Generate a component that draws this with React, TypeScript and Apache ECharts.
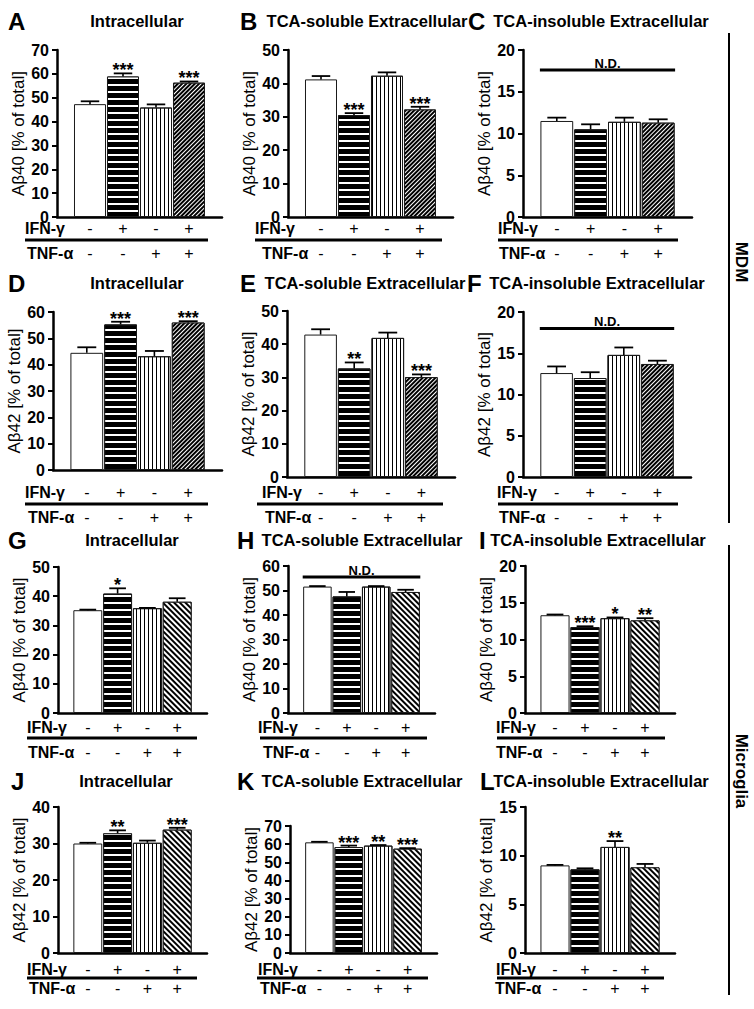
import React, { useEffect, useRef } from 'react';
import * as echarts from 'echarts';

const FF = '"Liberation Sans", Arial, Helvetica, sans-serif';

// ---- categories / tick labels ----
const IFN_GAMMA = ['-', '+', '-', '+'];
const TNF_ALPHA = ['-', '-', '+', '+'];
const PANEL_LETTERS = ['A', 'B', 'C', 'D', 'E', 'F', 'G', 'H', 'I', 'J', 'K', 'L'];
const COLUMN_TITLES = ['Intracellular', 'TCA-soluble Extracellular', 'TCA-insoluble Extracellular'];
const Y_NAMES = ['Aβ40 [% of total]', 'Aβ42 [% of total]', 'Aβ40 [% of total]', 'Aβ42 [% of total]'];
const Y_MAX = [70, 50, 20, 60, 50, 20, 50, 60, 20, 40, 70, 15];
const Y_STEP = [10, 10, 5, 10, 10, 5, 10, 10, 5, 10, 10, 5];

// ---- series values (mean, SEM, significance) ----
const MEAN_A = [47.3, 58.9, 45.9, 56.3];
const SEM_A = [1.2, 1.3, 1.3, 0.5];
const SIG_A = ['', '***', '', '***'];
const MEAN_B = [41.2, 30.5, 42.3, 32.2];
const SEM_B = [1.0, 0.6, 1.0, 0.8];
const SIG_B = ['', '***', '', '***'];
const MEAN_C = [11.5, 10.5, 11.4, 11.3];
const SEM_C = [0.4, 0.6, 0.5, 0.4];
const SIG_C = ['', '', '', ''];
const MEAN_D = [44.5, 55.3, 43.2, 56.0];
const SEM_D = [2.1, 1.0, 2.0, 0.5];
const SIG_D = ['', '***', '', '***'];
const MEAN_E = [42.9, 32.7, 41.9, 30.1];
const SEM_E = [1.6, 1.8, 1.6, 0.8];
const SIG_E = ['', '**', '', '***'];
const MEAN_F = [12.6, 12.0, 14.8, 13.7];
const SEM_F = [0.8, 0.7, 0.9, 0.4];
const SIG_F = ['', '', '', ''];
const MEAN_G = [35.2, 40.9, 35.9, 38.1];
const SEM_G = [0.2, 1.8, 0.1, 1.2];
const SIG_G = ['', '*', '', ''];
const MEAN_H = [51.6, 47.6, 51.6, 49.4];
const SEM_H = [0.2, 1.8, 0.2, 0.9];
const SIG_H = ['', '', '', ''];
const MEAN_I = [13.3, 11.7, 12.9, 12.6];
const SEM_I = [0.1, 0.1, 0.1, 0.3];
const SIG_I = ['', '***', '*', '**'];
const MEAN_J = [30.0, 32.8, 30.2, 33.8];
const SEM_J = [0.2, 0.8, 0.6, 0.5];
const SIG_J = ['', '**', '', '***'];
const MEAN_K = [61.0, 58.4, 59.2, 57.5];
const SEM_K = [0.3, 0.8, 0.3, 0.3];
const SIG_K = ['', '***', '**', '***'];
const MEAN_L = [9.0, 8.6, 10.9, 8.8];
const SEM_L = [0.05, 0.1, 0.6, 0.35];
const SIG_L = ['', '', '**', ''];
const ND_LEVEL: (number | null)[] = [null, null, 17.6, null, null, 18.0, null, 55.5, null, null, null, null];

const MEANS = [MEAN_A, MEAN_B, MEAN_C, MEAN_D, MEAN_E, MEAN_F, MEAN_G, MEAN_H, MEAN_I, MEAN_J, MEAN_K, MEAN_L];
const SEMS = [SEM_A, SEM_B, SEM_C, SEM_D, SEM_E, SEM_F, SEM_G, SEM_H, SEM_I, SEM_J, SEM_K, SEM_L];
const SIGS = [SIG_A, SIG_B, SIG_C, SIG_D, SIG_E, SIG_F, SIG_G, SIG_H, SIG_I, SIG_J, SIG_K, SIG_L];

// ---- layout (pixels) ----
// axisX, top, right, bottom, ifnX, lineX1, lineX2, tnfX, titleCenterX, letterX
const LAYOUT = [
  [57, 50, 222, 217, 25, 25, 208, 27, 137, 8],
  [288, 50, 453, 217, 255, 255, 442, 262, 367, 240],
  [523, 50, 692, 217, 498, 498, 678, 499, 601, 468],
  [53, 312, 222, 470, 25, 25, 208, 28, 137, 8],
  [287, 311, 455, 477, 262, 257, 443, 265, 365, 240],
  [523, 312, 691, 477, 497, 498, 678, 499, 597, 467],
  [58, 567, 207, 713, 27, 27, 197, 28, 132, 8],
  [288, 566, 435, 713, 258, 260, 427, 263, 362, 237],
  [525, 566, 675, 713, 496, 497, 665, 496, 598, 479],
  [58, 807, 207, 953, 27, 27, 197, 29, 126, 11],
  [290, 826, 437, 953, 258, 257, 428, 260, 362, 237],
  [525, 807, 675, 953, 496, 497, 664, 495, 601, 480],
];
// titleY, ifnY, lineY, tnfY
const ROW_Y = [
  [21, 228, 240, 253],
  [283, 492, 504, 517],
  [540, 727, 738, 752],
  [781, 969, 978, 988],
];

const LH = 12; // compact line height for the small label rows

function barStyle(k: number, microglia: boolean) {
  const border = { borderColor: '#1a1a1a', borderWidth: 1 };
  if (k === 0) return { color: '#ffffff', ...border };
  if (k === 1)
    return {
      color: '#000000', ...border,
      decal: { symbol: 'rect', symbolSize: 1, dashArrayX: [[8, 0]], dashArrayY: [2, 5], color: '#ffffff', rotation: 0 },
    };
  if (k === 2)
    return {
      color: '#ffffff', ...border,
      decal: { symbol: 'rect', symbolSize: 1, dashArrayX: [[1, 3]], dashArrayY: [8, 0], color: '#000000', rotation: 0 },
    };
  return {
    color: '#000000', ...border,
    decal: {
      symbol: 'rect', symbolSize: 1, dashArrayX: [[8, 0]],
      dashArrayY: microglia ? [2, 2] : [1, 2],
      color: '#ffffff',
      rotation: microglia ? Math.PI / 4 : -Math.PI / 4,
    },
  };
}

function txt(text: string, x: number, y: number, font: string, align = 'center', rotation = 0, lineHeight?: number) {
  const style: any = { text, font, fill: '#000', align, textAlign: align, verticalAlign: 'middle', textVerticalAlign: 'middle' };
  if (lineHeight) style.lineHeight = lineHeight;
  return { type: 'text', x, y, rotation, silent: true, style };
}
function line(x1: number, y1: number, x2: number, y2: number, w: number) {
  return { type: 'line', silent: true, shape: { x1, y1, x2, y2 }, style: { stroke: '#000', lineWidth: w } };
}

function buildOption() {
  const grid: any[] = [];
  const xAxis: any[] = [];
  const yAxis: any[] = [];
  const series: any[] = [];
  const graphic: any[] = [];

  LAYOUT.forEach((L, i) => {
    const [ax, top, right, bottom, ifnX, lx1, lx2, tnfX, tcx, letterX] = L;
    const row = Math.floor(i / 3);
    const col = i % 3;
    const [titleY, ifnY, lineY, tnfY] = ROW_Y[row];
    const micro = row >= 2;
    grid.push({ left: ax, top, width: right - ax, height: bottom - top });
    const margin = ifnY - bottom - LH / 2;
    const lab = { interval: 0, margin, fontSize: 16, lineHeight: LH, color: '#000', fontFamily: FF };
    xAxis.push({
      gridIndex: i, type: 'category', position: 'bottom', boundaryGap: false,
      data: ['', ...IFN_GAMMA, ''],
      axisLine: { onZero: false, lineStyle: { color: '#000', width: 2.5 } },
      axisTick: { show: false }, axisLabel: lab, splitLine: { show: false },
    });
    xAxis.push({
      gridIndex: i, type: 'category', position: 'bottom', boundaryGap: false, offset: tnfY - ifnY,
      data: ['', ...TNF_ALPHA, ''],
      axisLine: { show: false, onZero: false },
      axisTick: { show: false }, axisLabel: lab, splitLine: { show: false },
    });
    yAxis.push({
      gridIndex: i, type: 'value', min: 0, max: Y_MAX[i], interval: Y_STEP[i],
      axisLine: { show: true, lineStyle: { color: '#000', width: 2.5 } },
      axisTick: { show: true, length: 5, lineStyle: { color: '#000', width: 2 } },
      axisLabel: { fontSize: 16, lineHeight: LH, fontWeight: 'bold', color: '#000', margin: 8, fontFamily: FF },
      splitLine: { show: false },
      name: Y_NAMES[row], nameLocation: 'middle', nameRotate: 90, nameGap: 29,
      nameTextStyle: { fontSize: 17, color: '#000', fontFamily: FF },
    });
    const means = MEANS[i];
    const sems = SEMS[i];
    const sigs = SIGS[i];
    series.push({
      type: 'bar', xAxisIndex: 2 * i, yAxisIndex: i, barCategoryGap: '3%',
      data: means.map((v, k) => ({ value: [k + 1, v], itemStyle: barStyle(k, micro) })),
      silent: true,
    });
    series.push({
      type: 'custom', xAxisIndex: 2 * i, yAxisIndex: i, z: 5, silent: true,
      data: means.map((v, k) => [k + 1, v, sems[k]]),
      renderItem: (params: any, api: any) => {
        const x = api.value(0);
        const m = api.value(1);
        const e = api.value(2);
        const p0 = api.coord([x, m]);
        const p1 = api.coord([x, m + e]);
        const bw = api.size([1, 0])[0];
        const hw = bw * 0.28;
        const star = sigs[params.dataIndex];
        const children: any[] = [
          { type: 'line', shape: { x1: p0[0], y1: p0[1], x2: p1[0], y2: p1[1] }, style: { stroke: '#000', lineWidth: 1.6 } },
          { type: 'line', shape: { x1: p1[0] - hw, y1: p1[1], x2: p1[0] + hw, y2: p1[1] }, style: { stroke: '#000', lineWidth: 1.8 } },
        ];
        if (star) {
          children.push({
            type: 'text',
            style: {
              text: star, x: p1[0], y: p1[1] - 3, font: `bold 18px ${FF}`, fill: '#000',
              align: 'center', textAlign: 'center', verticalAlign: 'middle', textVerticalAlign: 'middle',
            },
          });
        }
        return { type: 'group', children };
      },
    });
    const nd = ND_LEVEL[i];
    if (nd !== null) {
      series.push({
        type: 'custom', xAxisIndex: 2 * i, yAxisIndex: i, z: 5, silent: true,
        data: [[1, 4, nd]],
        renderItem: (params: any, api: any) => {
          const a = api.coord([api.value(0), api.value(2)]);
          const b = api.coord([api.value(1), api.value(2)]);
          const bw = api.size([1, 0])[0];
          return {
            type: 'group',
            children: [
              { type: 'line', shape: { x1: a[0] - bw * 0.5, y1: a[1], x2: b[0] + bw * 0.5, y2: a[1] }, style: { stroke: '#000', lineWidth: 3 } },
              {
                type: 'text',
                style: {
                  text: 'N.D.', x: (a[0] + b[0]) / 2, y: a[1] - 7, font: `bold 13px ${FF}`, fill: '#000',
                  align: 'center', textAlign: 'center', verticalAlign: 'middle', textVerticalAlign: 'middle',
                },
              },
            ],
          };
        },
      });
    }
    graphic.push(txt(PANEL_LETTERS[i], letterX, titleY, `bold 24px ${FF}`, 'left'));
    graphic.push(txt(COLUMN_TITLES[col], tcx, titleY, `bold 16.5px ${FF}`, 'center'));
    graphic.push(txt('IFN-γ', ifnX, ifnY, `bold 16px ${FF}`, 'left', 0, LH));
    graphic.push(txt('TNF-α', tnfX, tnfY, `bold 16px ${FF}`, 'left', 0, LH));
    graphic.push(line(lx1, lineY, lx2, lineY, 3));
  });

  graphic.push(line(729, 33, 729, 523, 2));
  graphic.push(line(729, 545, 729, 995, 2));
  graphic.push(txt('MDM', 741, 262, `bold 17px ${FF}`, 'center', -Math.PI / 2));
  graphic.push(txt('Microglia', 741, 771, `bold 17px ${FF}`, 'center', -Math.PI / 2));

  return {
    animation: false,
    backgroundColor: '#ffffff',
    textStyle: { fontFamily: FF },
    grid, xAxis, yAxis, series,
    graphic: { elements: graphic },
  };
}

export default function App() {
  const ref = useRef<HTMLDivElement>(null);
  useEffect(() => {
    if (!ref.current) return;
    const chart = echarts.init(ref.current, null, { renderer: 'svg' });
    chart.setOption(buildOption() as any);
    return () => chart.dispose();
  }, []);
  return (
    <div
      ref={ref}
      style={{ position: 'absolute', left: 0, top: 0, width: 754, height: 1009, background: '#fff' }}
    />
  );
}
